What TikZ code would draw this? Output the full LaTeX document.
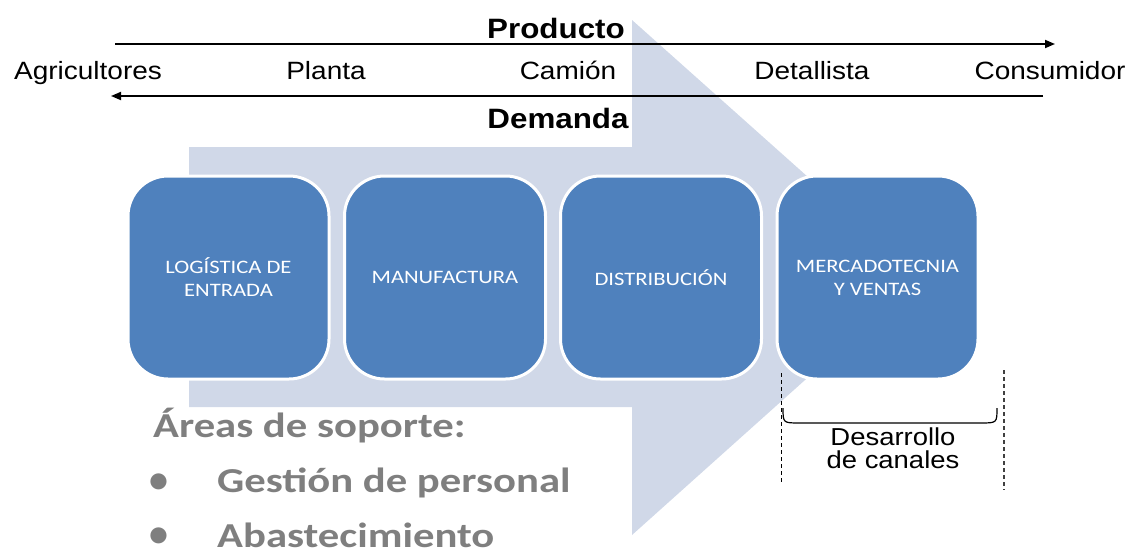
\documentclass[tikz,border=0pt]{standalone}
\usepackage{fontspec}
\newfontfamily\arialf[FakeStretch=1.12]{Liberation Sans}
\newfontfamily\boxf[FakeStretch=1.19]{Carlito}
\newfontfamily\grayf[FakeStretch=1.22]{Carlito}
\newfontfamily\bulf{Carlito}
\usetikzlibrary{arrows.meta}
\definecolor{boxblue}{HTML}{4F81BD}
\definecolor{arrowbg}{HTML}{D0D8E8}
\definecolor{graytxt}{HTML}{7F7F7F}
\begin{document}
\begin{tikzpicture}[x=1pt,y=-1pt,
  lbl/.style={font=\arialf\fontsize{25}{28}\selectfont, anchor=base, inner sep=0pt},
  ttl/.style={font=\arialf\bfseries\fontsize{28}{32}\selectfont, anchor=base, inner sep=0pt},
  stage/.style={draw=white, line width=3pt, fill=boxblue, rounded corners=40pt,
    minimum width=201pt, minimum height=203pt, text=white, align=center,
    font=\boxf\fontsize{19}{23}\selectfont},
  flow/.style={line width=1.8pt, -{Triangle[length=10pt,width=8pt]}},
  support/.style={font=\grayf\bfseries\fontsize{35}{40}\selectfont, text=graytxt, inner sep=0pt},
  bullet/.style={font=\bulf\bfseries\fontsize{38}{42}\selectfont, text=graytxt, inner sep=0pt, anchor=base},
  guide/.style={dashed, dash pattern=on 4pt off 3pt, line width=1pt},
  note/.style={font=\arialf\fontsize{24.5}{23}\selectfont, align=center, inner sep=0pt}
]
\useasboundingbox (0,0) rectangle (1143,554);

% big background arrow
\fill[arrowbg] (189,147) -- (632,147) -- (632,20) -- (920,277) -- (632,535)
  -- (632,407) -- (189,407) -- cycle;

% top flows
\node[ttl] (prod) at (556,38) {Producto};
\node[ttl] (dem) at (558,128) {Demanda};

\node[lbl] (agr) at (88,79) {Agricultores};
\node[lbl] (pla) at (326,79) {Planta};
\node[lbl] (cam) at (568,79) {Camión};
\node[lbl] (det) at (812,79) {Detallista};
\node[lbl] (con) at (1050,79) {Consumidor};

\coordinate (p1) at (115,44);
\coordinate (p2) at (1055,44);
\coordinate (d1) at (1043,96);
\coordinate (d2) at (111,96);
\draw[flow] (p1) -- (p2);
\draw[flow] (d1) -- (d2);

% stages
\node[stage] (s1) at (228.5,277.5) {LOGÍSTICA DE\\ENTRADA};
\node[stage] (s2) at (445,277.5) {MANUFACTURA};
\node[stage] (s3) at (661,277.5) {DISTRIBUCIÓN};
\node[stage] (s4) at (877.5,277.5) {MERCADOTECNIA\\Y VENTAS};

% channel development
\coordinate (g1a) at (781,373);
\coordinate (g1b) at (781,482);
\coordinate (g2a) at (1004,370);
\coordinate (g2b) at (1004,490);
\draw[guide] (g1a) -- (g1b);
\draw[guide, line width=1.4pt, draw=black!75] (g2a) -- (g2b);

\coordinate (b1) at (783,408);
\coordinate (b2) at (997,408);
\draw[line width=1.2pt] (b1) .. controls (783,423) .. (800,423) -- (980,423)
  .. controls (997,423) .. (b2);
\node[note, anchor=north] (dc) at (893,428) {Desarrollo\\de canales};

% support areas
\node[support, anchor=base west] (sa) at (153,437) {Áreas de soporte:};
\node[bullet] (bu1) at (159,492) {•};
\node[support, anchor=base west] (sa1) at (217,492) {Gestión de personal};
\node[bullet] (bu2) at (159,546) {•};
\node[support, anchor=base west] (sa2) at (217,547) {Abastecimiento};
\end{tikzpicture}
\end{document}
